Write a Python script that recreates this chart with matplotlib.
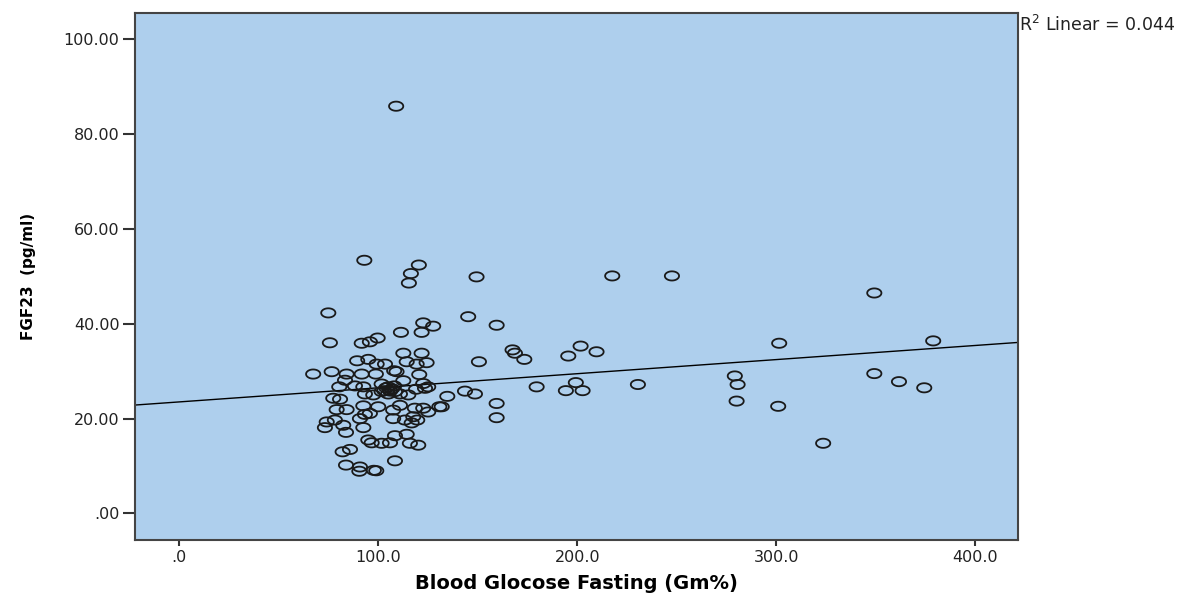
import numpy as np
import matplotlib
matplotlib.use('Agg')
import matplotlib.pyplot as plt
from matplotlib.path import Path

# Blood glucose fasting (Gm%) vs FGF23 (pg/ml)
glucose = [109, 93, 120.4, 116.4, 115.4, 74.9, 149.4, 145.2, 159.5, 122.6,
           127.6, 121.8, 111.4, 75.7, 91.7, 95.8, 99.7, 150.6, 159.5, 159.5,
           217.6, 247.6, 167.5, 168.7, 173.4, 195.5, 201.7, 209.7, 179.6, 199.3,
           194.3, 202.7, 230.5, 134.7, 143.6, 148.6, 131.9, 279.2, 280.6, 280.1,
           349.3, 301.5, 378.9, 349.3, 361.7, 374.4, 301.0, 323.6,
           112.6, 121.8, 89.4, 95.0, 99.2, 103.4, 114.3, 119.3, 124.3,
           67.3, 76.6, 84.1, 91.7, 98.8, 108.0, 109.2, 120.6,
           83.3, 80.4, 88.3, 92.5, 101.7, 105.0, 112.6, 122.6, 125.1,
           77.4, 80.8, 93.3, 97.5, 101.7, 105.9, 108.4, 110.9, 115.1, 119.0, 123.5,
           84.1, 79.1, 92.5, 95.8, 93.3, 100.0, 107.5, 110.9, 118.4, 122.6, 125.1, 130.7,
           74.1, 73.2, 78.2, 82.4, 90.8, 92.5, 107.5, 113.4, 117.6, 119.6, 116.8,
           83.8, 108.4, 114.3, 95.0, 96.7, 101.7, 105.9, 115.9, 120.1, 85.8, 82.1,
           108.4, 83.8, 90.8, 97.8, 90.5, 99.0,
           104, 106, 107, 105, 108, 103]
fgf23 = [85.9, 53.4, 52.4, 50.6, 48.6, 42.3, 49.9, 41.5, 39.7, 40.2,
         39.5, 38.2, 38.2, 36.0, 35.9, 36.2, 37.0, 32.0, 23.2, 20.2,
         50.1, 50.1, 34.5, 33.8, 32.5, 33.2, 35.3, 34.1, 26.7, 27.6,
         25.9, 25.9, 27.2, 24.7, 25.8, 25.2, 22.5, 29.0, 27.2, 23.7,
         46.5, 35.9, 36.4, 29.5, 27.8, 26.5, 22.6, 14.8,
         33.8, 33.8, 32.2, 32.5, 31.5, 31.5, 32.0, 31.5, 31.8,
         29.4, 29.9, 29.4, 29.4, 29.4, 30.1, 29.9, 29.3,
         28.1, 26.7, 26.9, 26.7, 27.3, 26.7, 28.0, 27.4, 26.7,
         24.3, 24.1, 25.2, 25.0, 25.7, 26.0, 25.7, 25.2, 25.0, 26.2, 26.4,
         21.9, 21.9, 22.7, 21.1, 20.9, 22.5, 21.8, 22.8, 22.2, 22.2, 21.4, 22.5,
         19.3, 18.1, 19.7, 18.6, 20.0, 18.1, 20.0, 19.7, 20.4, 19.7, 19.1,
         17.1, 16.4, 16.7, 15.5, 14.9, 14.8, 14.9, 14.8, 14.4, 13.5, 13.0,
         11.1, 10.2, 9.8, 9.1, 8.9, 9.0,
         26.5, 25.8, 26.3, 25.2, 26.9, 25.9]

xticks = [0, 100, 200, 300, 400]
xticklabels = ['.0', '100.0', '200.0', '300.0', '400.0']
yticks = [0, 20, 40, 60, 80, 100]
yticklabels = ['.00', '20.00', '40.00', '60.00', '80.00', '100.00']
r2_text = 'R$^2$ Linear = 0.044'

x = np.array(glucose)
y = np.array(fgf23)

# the original is stretched sideways, so the circles are wide ellipses
t = np.linspace(0, 2 * np.pi, 60)
ell = Path(np.column_stack([1.55 * np.cos(t), np.sin(t)]), closed=True)

fig = plt.figure(figsize=(11.92, 5.93), dpi=100)
ax = fig.add_axes([0.113, 0.0894, 0.741, 0.8882])
ax.set_facecolor('#aecfed')

ax.scatter(x, y, marker=ell, s=105, facecolors='none', edgecolors='#1a1a1a',
           linewidths=1.3, zorder=3)

xlim = (-22.4, 421.5)
slope, icpt = np.polyfit(x, y, 1)
xx = np.array(xlim)
ax.plot(xx, icpt + slope * xx, color='black', lw=1.0, zorder=2)

ax.set_xlim(xlim)
ax.set_ylim(-5.6, 105.5)
ax.set_xticks(xticks)
ax.set_xticklabels(xticklabels)
ax.set_yticks(yticks)
ax.set_yticklabels(yticklabels)

for s in ax.spines.values():
    s.set_color('#444444')
    s.set_linewidth(1.5)
ax.tick_params(axis='x', length=4.5, width=1.5, color='#333333', pad=3,
               labelsize=11.5, labelcolor='#222222')
ax.tick_params(axis='y', length=9, width=1.5, color='#333333', pad=2,
               labelsize=11.5, labelcolor='#222222')

ax.set_xlabel('Blood Glocose Fasting (Gm%)', fontsize=14, fontweight='bold')
ax.xaxis.set_label_coords(0.5, -0.064)
ax.set_ylabel('FGF23  (pg/ml)', fontsize=11, fontweight='bold')
ax.yaxis.set_label_coords(-0.112, 0.5)

fig.text(0.855, 0.958, r2_text, fontsize=12.5, ha='left', va='center',
         color='#222222')

fig.savefig('out.png', dpi=100)
